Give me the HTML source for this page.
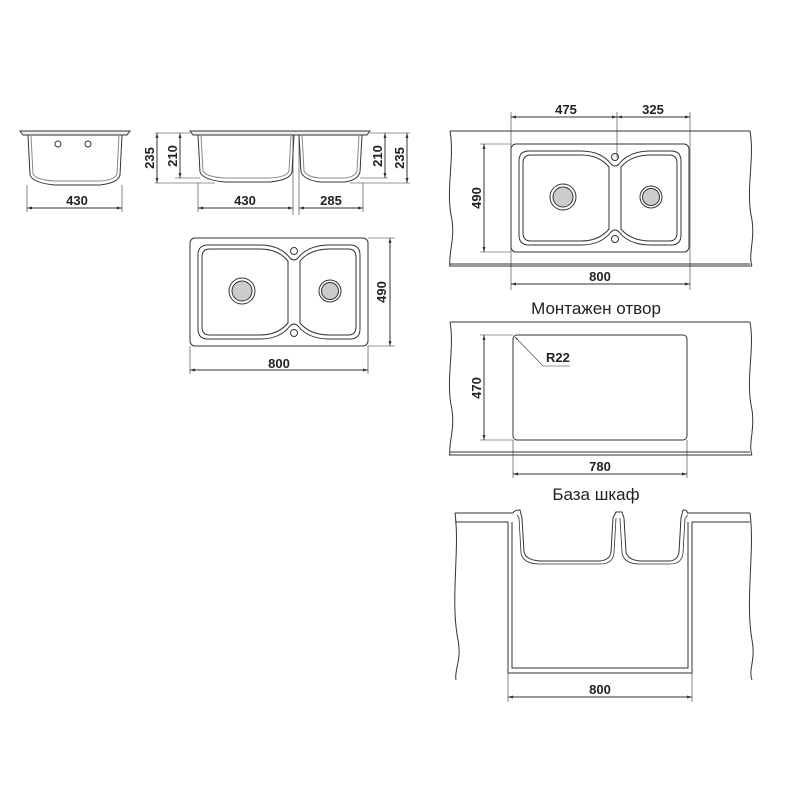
<!DOCTYPE html>
<html><head><meta charset="utf-8"><style>
html,body{margin:0;padding:0;background:#fff;width:800px;height:800px;overflow:hidden}
svg text{font-family:"Liberation Sans",sans-serif;font-weight:bold;font-size:13px;fill:#222}
</style></head><body>
<svg width="800" height="800" viewBox="0 0 800 800" xmlns="http://www.w3.org/2000/svg">
<defs>
<marker id="a" viewBox="0 0 10 10" refX="10" refY="5" markerWidth="7" markerHeight="5" orient="auto-start-reverse"><path d="M0,2 L10,5 L0,8z" fill="#333"/></marker>
<g id="sink" stroke="#333" fill="none" stroke-width="1">
<rect x="0" y="0" width="178" height="108" rx="5"/>
<path d="M18,7 Q8,7 8,17 L8,91 Q8,101 18,101 L70,101 Q90,101 100,88 Q104,84 108,88 Q118,101 140,101 L160,101 Q170,101 170,91 L170,17 Q170,7 160,7 L140,7 Q118,7 108,20 Q104,24 100,20 Q90,7 70,7 Z"/>
<path d="M20,11 Q12,11 12,19 L12,89 Q12,97 20,97 L70,97 Q88,97 98,85 L98,23 Q88,11 70,11 Z"/>
<path d="M110,23 Q120,11 140,11 L158,11 Q166,11 166,19 L166,89 Q166,97 158,97 L140,97 Q120,97 110,85 Z"/>
<circle cx="52" cy="53" r="13"/><circle cx="52" cy="53" r="10" fill="#ccc"/>
<circle cx="140" cy="53" r="11"/><circle cx="140" cy="53" r="8.5" fill="#ccc"/>
<circle cx="104" cy="13" r="3.5"/><circle cx="104" cy="95" r="3.5"/>
</g>
</defs>
<g stroke="#333" fill="none" stroke-width="1">
<!-- left single side view -->
<path d="M20,131 h110 l-3,4 h-104z" fill="#eee"/>
<path d="M28,135 L30,175 Q33,183 55,185 L100,185 Q118,183 120,175 L122,135"/>
<path d="M31,135 L33,174 Q36,180 55,181 L100,181 Q115,180 117,174 L119,135" stroke="#888"/>
<circle cx="58" cy="144" r="3"/><circle cx="88" cy="144" r="3"/>
<!-- middle side view -->
<path d="M190,131 h180 l-3,4 h-174z" fill="#eee"/>
<path d="M198,135 L200,172 Q203,180 225,182 L270,182 Q290,180 292,172 L294,135"/>
<path d="M201,135 L203,171 Q206,177 225,178 L270,178 Q287,177 289,171 L291,135" stroke="#888"/>
<path d="M299,135 L301,172 Q304,180 320,182 L345,182 Q358,180 360,172 L362,135"/>
<path d="M302,135 L304,171 Q307,177 320,178 L345,178 Q355,177 357,171 L359,135" stroke="#888"/>
<line x1="293" y1="135" x2="293" y2="215" stroke-width="0.6"/><line x1="299" y1="135" x2="299" y2="215" stroke-width="0.6"/>
<g stroke-width="0.6">
<line x1="155" y1="133" x2="190" y2="133"/><line x1="155" y1="183" x2="215" y2="183"/><line x1="175" y1="178" x2="200" y2="178"/>
<line x1="370" y1="133" x2="410" y2="133"/><line x1="350" y1="183" x2="410" y2="183"/><line x1="360" y1="178" x2="388" y2="178"/>
<line x1="27" y1="185" x2="27" y2="212"/><line x1="122" y1="185" x2="122" y2="212"/>
<line x1="198" y1="183" x2="198" y2="212"/><line x1="363" y1="183" x2="363" y2="212"/>
</g>
<line x1="157" y1="133" x2="157" y2="183" marker-start="url(#a)" marker-end="url(#a)"/>
<line x1="180" y1="133" x2="180" y2="178" marker-start="url(#a)" marker-end="url(#a)"/>
<line x1="385" y1="133" x2="385" y2="178" marker-start="url(#a)" marker-end="url(#a)"/>
<line x1="407" y1="133" x2="407" y2="183" marker-start="url(#a)" marker-end="url(#a)"/>
<line x1="27" y1="208" x2="122" y2="208" marker-start="url(#a)" marker-end="url(#a)"/>
<line x1="198" y1="208" x2="293" y2="208" marker-start="url(#a)" marker-end="url(#a)"/>
<line x1="299" y1="208" x2="363" y2="208" marker-start="url(#a)" marker-end="url(#a)"/>
<use href="#sink" x="190" y="238"/>
<use href="#sink" x="511" y="144"/>
<g stroke-width="0.6">
<line x1="368" y1="238" x2="395" y2="238"/><line x1="368" y1="346" x2="395" y2="346"/>
<line x1="190" y1="346" x2="190" y2="374"/><line x1="368" y1="346" x2="368" y2="374"/>
</g>
<line x1="390" y1="238" x2="390" y2="346" marker-start="url(#a)" marker-end="url(#a)"/>
<line x1="190" y1="370" x2="368" y2="370" marker-start="url(#a)" marker-end="url(#a)"/>
<!-- right top counter -->
<path d="M450,131 H750 M450,264 H750 M449,266 H752" />
<path d="M450,131 C455,160 445,190 452,220 C455,240 448,255 450,266"/>
<path d="M750,131 C755,160 745,190 752,220 C755,240 748,255 752,266"/>
<g stroke-width="0.6">
<line x1="511" y1="112" x2="511" y2="290"/><line x1="690" y1="112" x2="690" y2="290"/><line x1="617" y1="112" x2="617" y2="158"/>
<line x1="480" y1="144" x2="511" y2="144"/><line x1="480" y1="252" x2="511" y2="252"/>
</g>
<line x1="511" y1="117" x2="617" y2="117" marker-start="url(#a)" marker-end="url(#a)"/>
<line x1="617" y1="117" x2="690" y2="117" marker-start="url(#a)" marker-end="url(#a)"/>
<line x1="484" y1="144" x2="484" y2="252" marker-start="url(#a)" marker-end="url(#a)"/>
<line x1="511" y1="284" x2="690" y2="284" marker-start="url(#a)" marker-end="url(#a)"/>
<!-- cutout -->
<path d="M450,322 H750 M450,452 H750 M449,455 H752"/>
<path d="M450,322 C455,350 445,380 452,410 C455,430 448,445 450,455"/>
<path d="M750,322 C755,350 745,380 752,410 C755,430 748,445 752,455"/>
<rect x="513" y="335" width="174" height="105" rx="4"/>
<g stroke-width="0.6">
<line x1="480" y1="335" x2="513" y2="335"/><line x1="480" y1="440" x2="513" y2="440"/>
<line x1="513" y1="440" x2="513" y2="478"/><line x1="687" y1="440" x2="687" y2="478"/>
<polyline points="570,366 543,366 515,337" marker-end="url(#a)"/>
</g>
<line x1="484" y1="335" x2="484" y2="440" marker-start="url(#a)" marker-end="url(#a)"/>
<line x1="513" y1="474" x2="687" y2="474" marker-start="url(#a)" marker-end="url(#a)"/>
<!-- cabinet -->
<path d="M455,513 H513 M687,513 H750 M455,522 H508 M692,522 H750"/>
<path d="M455,513 C460,550 450,600 458,640 C462,660 454,670 456,680"/>
<path d="M750,513 C755,550 745,600 752,640 C756,660 748,670 752,680"/>
<path d="M508,522 V673 H692 V522 M512,522 V668 H688 V522"/>
<path d="M513,513 Q514,510 520,510 L522,518 L524,552 Q526,560 540,561 L600,561 Q610,560 611,552 L613,518 L616,512 L622,512 L624,518 L626,552 Q628,560 640,561 L670,561 Q678,560 679,552 L681,518 L683,510 Q688,510 687,513"/>
<path d="M517,515 L519,518 L521,553 Q523,564 540,564 L600,564 Q613,564 614,553 L616,518 M620,518 L622,553 Q624,564 640,564 L670,564 Q682,564 683,553 L685,518 L688,515" stroke-width="0.8"/>
<g stroke-width="0.6"><line x1="508" y1="673" x2="508" y2="702"/><line x1="692" y1="673" x2="692" y2="702"/></g>
<line x1="508" y1="697" x2="692" y2="697" marker-start="url(#a)" marker-end="url(#a)"/>
</g>
<!-- texts -->
<text x="77" y="205" text-anchor="middle">430</text>
<text x="245" y="205" text-anchor="middle">430</text>
<text x="331" y="205" text-anchor="middle">285</text>
<text transform="translate(154,158) rotate(-90)" text-anchor="middle">235</text>
<text transform="translate(177,156) rotate(-90)" text-anchor="middle">210</text>
<text transform="translate(382,156) rotate(-90)" text-anchor="middle">210</text>
<text transform="translate(404,158) rotate(-90)" text-anchor="middle">235</text>
<text transform="translate(386,292) rotate(-90)" text-anchor="middle">490</text>
<text x="279" y="368" text-anchor="middle">800</text>
<text x="566" y="114" text-anchor="middle">475</text>
<text x="653" y="114" text-anchor="middle">325</text>
<text transform="translate(481,198) rotate(-90)" text-anchor="middle">490</text>
<text x="600" y="281" text-anchor="middle">800</text>
<text x="596" y="314" text-anchor="middle" style="font-weight:normal;font-size:17px">Монтажен отвор</text>
<text x="546" y="362">R22</text>
<text transform="translate(481,388) rotate(-90)" text-anchor="middle">470</text>
<text x="600" y="471" text-anchor="middle">780</text>
<text x="596" y="500" text-anchor="middle" style="font-weight:normal;font-size:17px">База шкаф</text>
<text x="600" y="694" text-anchor="middle">800</text>
</svg>
</body></html>
